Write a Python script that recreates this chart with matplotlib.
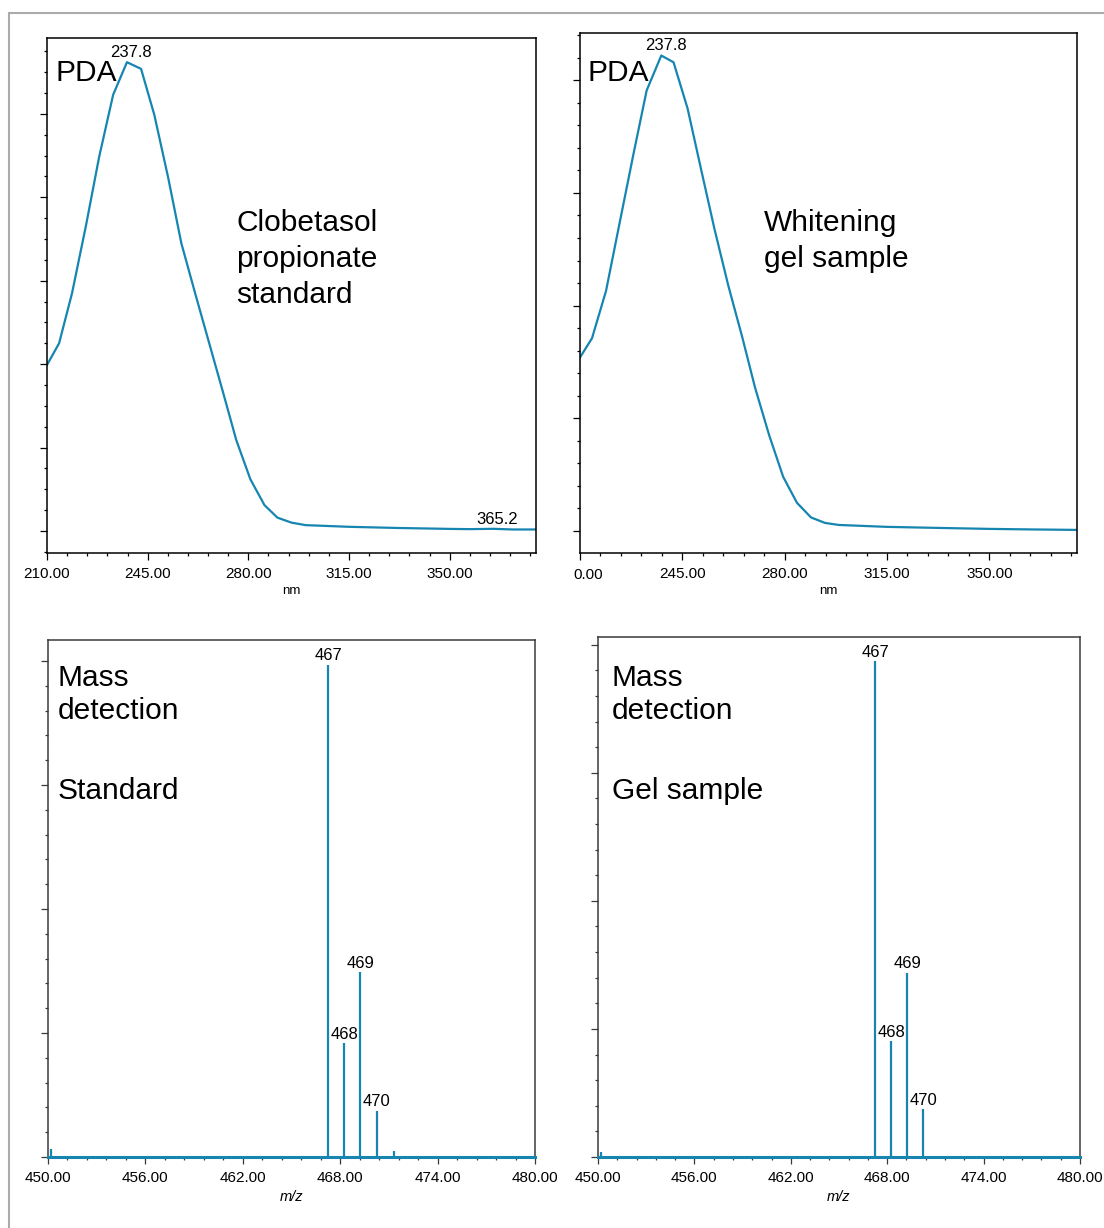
# UV (PDA) spectra and mass spectra of clobetasol propionate: standard vs gel sample
import matplotlib
matplotlib.use("Agg")
import matplotlib.pyplot as plt
from matplotlib.patches import Rectangle
from matplotlib.ticker import MultipleLocator

plt.rcParams['font.family'] = ['Liberation Sans', 'DejaVu Sans']

# ---- data ----
# PDA spectrum, standard (nm, AU)
std_nm = [210.0, 214.2, 218.7, 223.6, 228.1, 233.0, 237.8, 242.7, 247.3, 252.1,
          256.7, 261.5, 266.4, 271.3, 275.8, 280.7, 285.6, 290.1, 295.0, 299.9,
          315.0, 332.0, 350.0, 357.0, 365.2, 372.0, 380.0]
std_au = [0.199, 0.225, 0.285, 0.367, 0.448, 0.523, 0.562, 0.554, 0.499, 0.424,
          0.345, 0.285, 0.225, 0.165, 0.109, 0.062, 0.031, 0.016, 0.010, 0.007,
          0.0050, 0.0036, 0.0025, 0.0022, 0.0026, 0.0018, 0.0018]

# PDA spectrum, whitening gel sample (nm, AU)
gel_nm = [210.0, 214.1, 218.9, 223.6, 228.4, 232.8, 237.8, 242.0, 246.8, 251.5,
          256.0, 260.7, 265.5, 269.9, 274.7, 279.5, 284.2, 289.0, 293.8, 298.5,
          315.0, 332.0, 350.0, 365.0, 380.0]
gel_au = [0.154, 0.171, 0.213, 0.274, 0.336, 0.391, 0.422, 0.416, 0.375, 0.320,
          0.268, 0.218, 0.172, 0.127, 0.085, 0.048, 0.025, 0.012, 0.0071, 0.0053,
          0.0036, 0.0027, 0.0018, 0.0013, 0.0009]

# mass spectra (m/z, intensity)
std_mz = [450.2, 467.25, 468.25, 469.25, 470.25, 471.3, 472.2]
std_int = [0.065, 3.97, 0.92, 1.49, 0.373, 0.05, 0.01]
gel_mz = [450.2, 467.25, 468.25, 469.25, 470.25]
gel_int = [0.04, 3.87, 0.906, 1.44, 0.373]
peak_labels = ['467', '468', '469', '470']

uv_ticks = [210, 245, 280, 315, 350]
uv_labels_std = ['210.00', '245.00', '280.00', '315.00', '350.00']
uv_labels_gel = ['', '245.00', '280.00', '315.00', '350.00']
mz_ticks = [450, 456, 462, 468, 474, 480]
mz_labels = ['450.00', '456.00', '462.00', '468.00', '474.00', '480.00']

blue = '#1685b0'
W, H = 1104, 1228
BIG = 21.5

fig = plt.figure(figsize=(W / 100, H / 100), dpi=100)
fig.add_artist(Rectangle((8.5 / W, -0.05), 1.2, 1.05 - 12.5 / H, transform=fig.transFigure,
                         fill=False, edgecolor='#ababab', linewidth=1.5))


def box(l, t, r, b):
    return [l / W, 1 - b / H, (r - l) / W, (b - t) / H]


def label(x, ybase, s):
    # big annotation text, x = left edge px, ybase = baseline px
    fig.text(x / W, 1 - ybase / H, s, fontsize=BIG, ha='left', va='baseline')


def style(ax, spine_col):
    for s in ax.spines.values():
        s.set_color(spine_col)
        s.set_linewidth(1.1)
    ax.tick_params(which='major', direction='out', length=5, width=0.9,
                   labelsize=11, pad=5, colors=spine_col, labelcolor='black')
    ax.tick_params(which='minor', direction='out', length=2.5, width=0.9, colors=spine_col)
    ax.set_yticklabels([])


def uv_panel(rect, nm, au, xlabels, ylim, ymajor, nminor):
    ax = fig.add_axes(rect)
    ax.plot(nm, au, color=blue, lw=1.6)
    ax.set_xlim(210, 380)
    ax.set_ylim(*ylim)
    ax.set_xticks(uv_ticks)
    ax.set_xticklabels(xlabels)
    ax.xaxis.set_minor_locator(MultipleLocator(7))
    ax.yaxis.set_major_locator(MultipleLocator(ymajor))
    ax.yaxis.set_minor_locator(MultipleLocator(ymajor / nminor))
    style(ax, 'black')
    ax.set_xlabel('nm', fontsize=9.5, labelpad=3)
    return ax


ax1 = uv_panel(box(47, 38, 536, 553), std_nm, std_au, uv_labels_std, (-0.0264, 0.591), 0.1, 4)
for nm_val in [237.8, 365.2]:
    i = std_nm.index(nm_val)
    ax1.annotate(f'{nm_val:.1f}', (std_nm[i], std_au[i]), xytext=(3, 1.5),
                 textcoords='offset points', ha='center', va='bottom', fontsize=12)

ax2 = uv_panel(box(580, 33, 1077, 553), gel_nm, gel_au, uv_labels_gel, (-0.0196, 0.442), 0.1, 5)
i = gel_nm.index(237.8)
ax2.annotate('237.8', (gel_nm[i], gel_au[i]), xytext=(3, 1.5), textcoords='offset points',
             ha='center', va='bottom', fontsize=12)
# first tick label of this panel is cut to "0.00" in the original export
ax2.annotate('0.00', xy=(210, 0), xycoords=ax2.get_xaxis_transform(), xytext=(6, -16),
             textcoords='offset points', ha='center', va='center', fontsize=11,
             annotation_clip=False)

label(55, 81, 'PDA')
label(236, 231, 'Clobetasol')
label(236, 267, 'propionate')
label(236, 303, 'standard')
label(587, 81, 'PDA')
label(764, 231, 'Whitening')
label(764, 267, 'gel sample')


def ms_panel(rect, mz, inten, ytop, ymajor):
    ax = fig.add_axes(rect)
    ax.vlines(mz, 0, inten, color=blue, lw=1.6, zorder=3, clip_on=False)
    ax.axhline(0, color=blue, lw=2.2, zorder=3, clip_on=False)
    ax.set_xlim(450, 480)
    ax.set_ylim(0, ytop)
    ax.set_xticks(mz_ticks)
    ax.set_xticklabels(mz_labels)
    ax.xaxis.set_minor_locator(MultipleLocator(1.2))
    ax.yaxis.set_major_locator(MultipleLocator(ymajor))
    ax.yaxis.set_minor_locator(MultipleLocator(ymajor / 5))
    style(ax, '#3a3a3a')
    ax.set_xlabel('m/z', fontsize=10.5, style='italic', labelpad=4)
    for x, y, lab in zip(mz[1:5], inten[1:5], peak_labels):
        ax.annotate(lab, (x, y), xytext=(0, 1), textcoords='offset points',
                    ha='center', va='bottom', fontsize=12)
    return ax


ms_panel(box(48, 640, 535, 1157), std_mz, std_int, 4.17, 1.0)
ms_panel(box(598, 637, 1080, 1157), gel_mz, gel_int, 4.06, 1.0)

label(58, 686, 'Mass')
label(58, 719, 'detection')
label(58, 799, 'Standard')
label(612, 686, 'Mass')
label(612, 719, 'detection')
label(612, 799, 'Gel sample')

fig.savefig('out.png', dpi=100)
